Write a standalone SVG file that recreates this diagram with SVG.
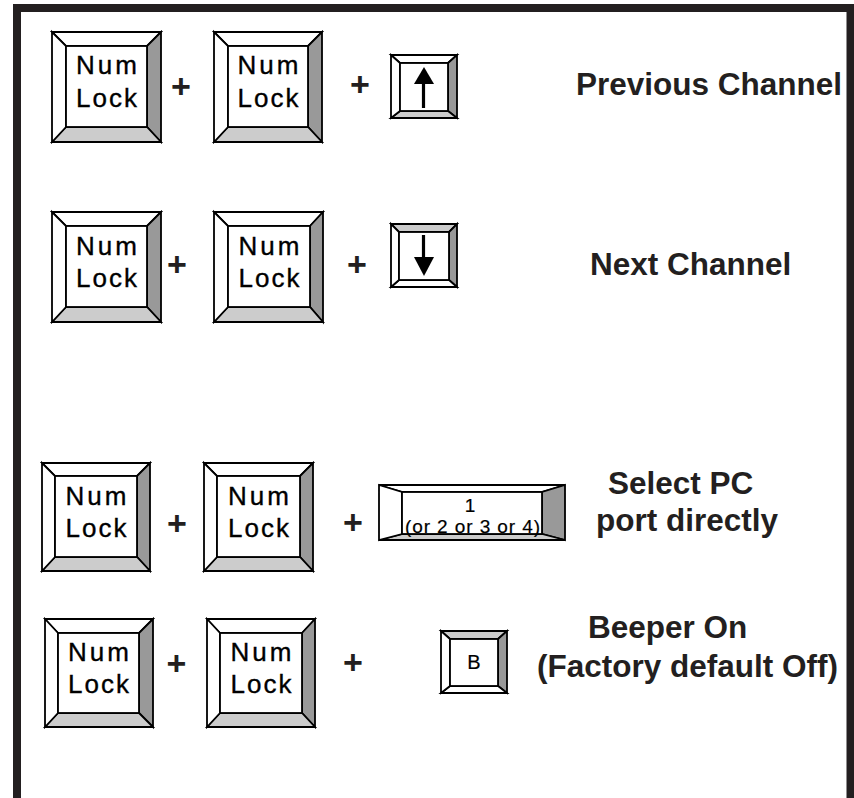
<svg xmlns="http://www.w3.org/2000/svg" width="854" height="798" viewBox="0 0 854 798">
<style>
.k polygon,.k rect{stroke:#000;stroke-width:1.8;stroke-linejoin:miter}
.w{fill:#fff}.l{fill:#ccc}.d{fill:#999}
.kt{font-family:"Liberation Sans",Arial,sans-serif;font-size:26px;fill:#000;stroke:#000;stroke-width:0.35;text-anchor:middle}
.pl{font-family:"Liberation Sans",Arial,sans-serif;font-weight:bold;font-size:34px;fill:#231f20;text-anchor:middle}
.lb{font-family:"Liberation Sans",Arial,sans-serif;font-weight:bold;font-size:31.5px;fill:#231f20}
.sm{font-family:"Liberation Sans",Arial,sans-serif;font-size:19px;fill:#000;stroke:#000;stroke-width:0.2;text-anchor:middle}
</style>
<rect width="854" height="798" fill="#fff"/>
<path d="M17,798 V8 H850.5 V798" fill="none" stroke="#231f20" stroke-width="8"/>

<!-- Row 1 -->
<g id="r1k1" class="k">
<polygon class="w" points="52,32 161,32 147,46 66,46"/>
<polygon class="d" points="161,32 161,142 147,127 147,46"/>
<polygon class="l" points="52,142 161,142 147,127 66,127"/>
<polygon class="w" points="52,32 66,46 66,127 52,142"/>
<rect class="w" x="66" y="46" width="81" height="81"/>
<text class="kt" x="106.5" y="74" textLength="61" lengthAdjust="spacing">Num</text>
<text class="kt" x="106.5" y="107" textLength="61" lengthAdjust="spacing">Lock</text>
</g>
<g id="r1k2" class="k">
<polygon class="w" points="214,32 322,32 308,46 228,46"/>
<polygon class="d" points="322,32 322,142 308,127 308,46"/>
<polygon class="l" points="214,142 322,142 308,127 228,127"/>
<polygon class="w" points="214,32 228,46 228,127 214,142"/>
<rect class="w" x="228" y="46" width="80" height="81"/>
<text class="kt" x="268" y="74" textLength="61" lengthAdjust="spacing">Num</text>
<text class="kt" x="268" y="107" textLength="61" lengthAdjust="spacing">Lock</text>
</g>
<g id="r1up" class="k">
<polygon class="w" points="391,55 457,55 448,63 400,63"/>
<polygon class="d" points="457,55 457,118 448,111 448,63"/>
<polygon class="l" points="391,118 457,118 448,111 400,111"/>
<polygon class="w" points="391,55 400,63 400,111 391,118"/>
<rect class="w" x="400" y="63" width="48" height="48"/>
<line x1="423.5" y1="108" x2="423.5" y2="82" stroke="#000" stroke-width="3.2"/>
<polygon points="414,84 434,84 424,67" fill="#000" style="stroke:none"/>
</g>
<text class="pl" x="181" y="98">+</text>
<text class="pl" x="360" y="96">+</text>
<text id="t1" class="lb" x="576" y="95">Previous Channel</text>

<!-- Row 2 -->
<g id="r2k1" class="k">
<polygon class="w" points="52,212 161,212 147,226 66,226"/>
<polygon class="d" points="161,212 161,322 147,307 147,226"/>
<polygon class="l" points="52,322 161,322 147,307 66,307"/>
<polygon class="w" points="52,212 66,226 66,307 52,322"/>
<rect class="w" x="66" y="226" width="81" height="81"/>
<text class="kt" x="106.5" y="255" textLength="61" lengthAdjust="spacing">Num</text>
<text class="kt" x="106.5" y="287" textLength="61" lengthAdjust="spacing">Lock</text>
</g>
<g id="r2k2" class="k">
<polygon class="w" points="214,212 323,212 310,226 228,226"/>
<polygon class="d" points="323,212 323,322 310,307 310,226"/>
<polygon class="l" points="214,322 323,322 310,307 228,307"/>
<polygon class="w" points="214,212 228,226 228,307 214,322"/>
<rect class="w" x="228" y="226" width="82" height="81"/>
<text class="kt" x="269" y="255" textLength="61" lengthAdjust="spacing">Num</text>
<text class="kt" x="269" y="287" textLength="61" lengthAdjust="spacing">Lock</text>
</g>
<g id="r2down" class="k">
<polygon class="l" points="391,224 457,224 449,232 399,232"/>
<polygon class="d" points="457,224 457,287 449,280 449,232"/>
<polygon class="w" points="391,287 457,287 449,280 399,280"/>
<polygon class="w" points="391,224 399,232 399,280 391,287"/>
<rect class="w" x="399" y="232" width="50" height="48"/>
<line x1="423.5" y1="235" x2="423.5" y2="259" stroke="#000" stroke-width="3.2"/>
<polygon points="414,257 434,257 424,276" fill="#000" style="stroke:none"/>
</g>
<text class="pl" x="177" y="276">+</text>
<text class="pl" x="357" y="276">+</text>
<text id="t2" class="lb" x="590" y="275">Next Channel</text>

<!-- Row 3 -->
<g id="r3k1" class="k">
<polygon class="w" points="42,463 150,463 137,476 55,476"/>
<polygon class="d" points="150,463 150,571 137,557 137,476"/>
<polygon class="l" points="42,571 150,571 137,557 55,557"/>
<polygon class="w" points="42,463 55,476 55,557 42,571"/>
<rect class="w" x="55" y="476" width="82" height="81"/>
<text class="kt" x="96" y="505" textLength="61" lengthAdjust="spacing">Num</text>
<text class="kt" x="96" y="537" textLength="61" lengthAdjust="spacing">Lock</text>
</g>
<g id="r3k2" class="k">
<polygon class="w" points="204,463 313,463 300,476 217,476"/>
<polygon class="d" points="313,463 313,571 300,557 300,476"/>
<polygon class="l" points="204,571 313,571 300,557 217,557"/>
<polygon class="w" points="204,463 217,476 217,557 204,571"/>
<rect class="w" x="217" y="476" width="83" height="81"/>
<text class="kt" x="258.5" y="505" textLength="61" lengthAdjust="spacing">Num</text>
<text class="kt" x="258.5" y="537" textLength="61" lengthAdjust="spacing">Lock</text>
</g>
<g id="r3one" class="k">
<polygon class="w" points="379,485 565,485 542,492 402,492"/>
<polygon class="d" points="565,485 565,540 542,534 542,492"/>
<polygon class="l" points="379,540 565,540 542,534 402,534"/>
<polygon class="w" points="379,485 402,492 402,534 379,540"/>
<rect class="w" x="402" y="492" width="140" height="42"/>
<text class="sm" x="470" y="511.5">1</text>
<text class="sm" x="472.5" y="533" textLength="135" lengthAdjust="spacing">(or 2 or 3 or 4)</text>
</g>
<text class="pl" x="177" y="535">+</text>
<text class="pl" x="353" y="534">+</text>
<text id="t3a" class="lb" x="608" y="494">Select PC</text>
<text id="t3b" class="lb" x="596" y="531">port directly</text>

<!-- Row 4 -->
<g id="r4k1" class="k">
<polygon class="w" points="45,619 153,619 139,633 58,633"/>
<polygon class="d" points="153,619 153,727 139,713 139,633"/>
<polygon class="l" points="45,727 153,727 139,713 58,713"/>
<polygon class="w" points="45,619 58,633 58,713 45,727"/>
<rect class="w" x="58" y="633" width="81" height="80"/>
<text class="kt" x="98.5" y="661" textLength="61" lengthAdjust="spacing">Num</text>
<text class="kt" x="98.5" y="693" textLength="61" lengthAdjust="spacing">Lock</text>
</g>
<g id="r4k2" class="k">
<polygon class="w" points="207,619 315,619 302,633 220,633"/>
<polygon class="d" points="315,619 315,727 302,713 302,633"/>
<polygon class="l" points="207,727 315,727 302,713 220,713"/>
<polygon class="w" points="207,619 220,633 220,713 207,727"/>
<rect class="w" x="220" y="633" width="82" height="80"/>
<text class="kt" x="261" y="661" textLength="61" lengthAdjust="spacing">Num</text>
<text class="kt" x="261" y="693" textLength="61" lengthAdjust="spacing">Lock</text>
</g>
<g id="r4b" class="k">
<polygon class="l" points="441,631 507,631 498,639 450,639"/>
<polygon class="d" points="507,631 507,693 498,686 498,639"/>
<polygon class="w" points="441,693 507,693 498,686 450,686"/>
<polygon class="w" points="441,631 450,639 450,686 441,693"/>
<rect class="w" x="450" y="639" width="48" height="47"/>
<text class="sm" x="474" y="669" style="font-size:20px">B</text>
</g>
<text class="pl" x="176.5" y="675">+</text>
<text class="pl" x="353" y="674">+</text>
<text id="t4a" class="lb" x="588" y="638">Beeper On</text>
<text id="t4b" class="lb" x="537" y="677">(Factory default Off)</text>
</svg>
